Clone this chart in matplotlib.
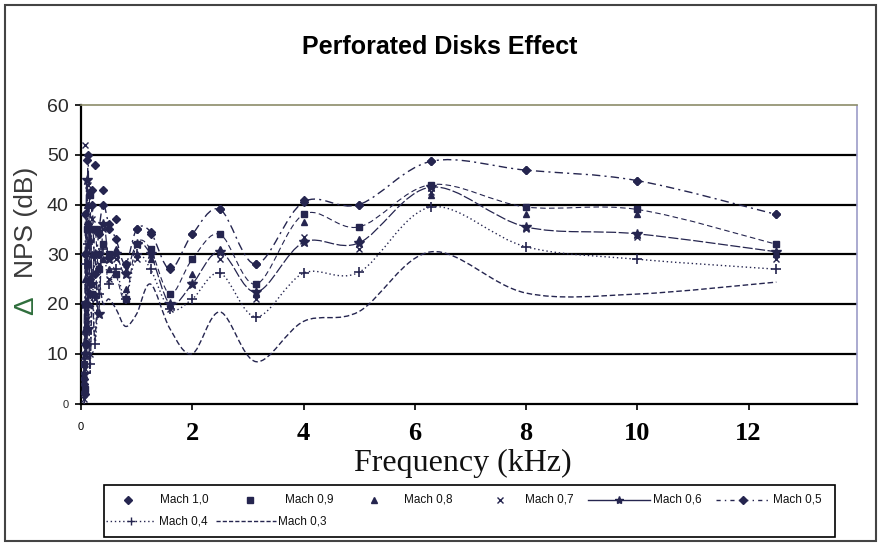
import numpy as np
import matplotlib
matplotlib.use("Agg")
import matplotlib.pyplot as plt
from matplotlib.path import Path
from matplotlib.patches import PathPatch, Rectangle
from matplotlib.lines import Line2D
from matplotlib import font_manager as fm

# ---------------- data (kHz, dB) ----------------
freq = [0.05, 0.063, 0.08, 0.1, 0.125, 0.16, 0.2, 0.25, 0.315, 0.4, 0.5, 0.63,
        0.8, 1.0, 1.25, 1.6, 2.0, 2.5, 3.15, 4.0, 5.0, 6.3, 8.0, 10.0, 12.5]

mach10 = [5, 12, 30, 49, 36, 25, 43, 48, 30, 43, 35, 37,
          28, 35, 34, 27.5, 34, 39, 28, 41, 40, 48.7, 47, 44.8, 38]
mach09 = [8, 3, 20, 35, 28, 42, 22, 35, 27, 32, 30, 26,
          21, 32, 31, 22, 29, 34, 24, 38, 35.5, 44, 39.5, 39, 32]
mach08 = [3, 15, 25, 40, 20, 33, 30, 22, 35, 29, 27, 31,
          23, 30, 29, 20, 26, 31, 22, 36.5, 33, 42, 38, 38, 30]
mach07 = [1, 7, 52, 17, 44, 10, 37, 21, 28, 35, 25, 29,
          27, 29, 31, 19, 24, 29, 21, 33.5, 31, 42.5, 35, 33.5, 29]
mach06 = [6, 20, 10, 45, 15, 35, 24, 30, 18, 36, 29, 30,
          26, 32, 30, 20, 24, 30.5, 22.4, 32.4, 32.3, 43.5, 35.5, 34.1, 30.5]
mach05 = [4, 2, 38, 12, 50, 22, 40, 26, 34, 40, 36, 33,
          28, 35, 34.5, 27, 34, 39, 28, 40.5, 40, 48.7, 46.9, 44.8, 38]
mach04 = [2, 9, 28, 14, 32, 8, 26, 12, 22, 31, 24, 27,
          21, 30, 27, 19, 21, 26.2, 17.4, 26.2, 26.4, 39.5, 31.5, 29, 27]
mach03 = [3, 5, 18, 9, 25, 6, 21, 13, 24, 20, 21, 19,
          15.5, 18, 24, 15, 10, 18.4, 8.4, 16.5, 18.5, 30.5, 22.2, 22, 24.4]

labels = ["Mach 1,0", "Mach 0,9", "Mach 0,8", "Mach 0,7",
          "Mach 0,6", "Mach 0,5", "Mach 0,4", "Mach 0,3"]
xtick_vals = [0, 2, 4, 6, 8, 10, 12]
ytick_vals = [0, 10, 20, 30, 40, 50, 60]

# ---------------- fonts ----------------
avail = {f.name for f in fm.fontManager.ttflist}
def pick(*names):
    for n in names:
        if n in avail:
            return n
    return "DejaVu Sans"
SANS = pick("Liberation Sans", "Arial", "DejaVu Sans")
NARROW = pick("Liberation Sans Narrow", "Liberation Sans", "DejaVu Sans")
SERIF = pick("Liberation Serif", "DejaVu Serif")

W, H = 880, 543
fig = plt.figure(figsize=(W / 100, H / 100), dpi=100)
def fx(px): return px / W
def fy(py): return 1 - py / H

ax = fig.add_axes([fx(81), fy(403.5), fx(857) - fx(81), fy(105) - fy(403.5)])
ax.set_xlim(0, 13.95)
ax.set_ylim(0, 60)

INK = "#25254f"

for yv in [10, 20, 30, 40, 50]:
    ax.axhline(yv, color="black", lw=1.6, zorder=1)

def smooth_path(x, y):
    pts = np.column_stack([x, y]).astype(float)
    n = len(pts)
    verts = [pts[0]]
    codes = [Path.MOVETO]
    for i in range(n - 1):
        p0 = pts[i - 1] if i > 0 else pts[i]
        p1 = pts[i]
        p2 = pts[i + 1]
        p3 = pts[i + 2] if i + 2 < n else pts[i + 1]
        verts += [p1 + (p2 - p0) / 6, p2 - (p3 - p1) / 6, p2]
        codes += [Path.CURVE4] * 3
    return Path(verts, codes)

def line(y, ls, lw=1.0):
    ax.add_patch(PathPatch(smooth_path(freq, y), fill=False, ec=INK, lw=lw,
                           linestyle=ls, zorder=3))

# smoothed lines
line(mach03, (0, (4, 2)))
line(mach04, (0, (1, 2)))
line(mach05, (0, (6, 3, 1.5, 3)))
line(mach06, (0, (8, 2)), 0.9)
line(mach09, (0, (5, 3)), 0.8)

# markers
ms = dict(ls="none", color=INK, zorder=4)
ax.plot(freq, mach10, marker="D", ms=4.5, **ms)
ax.plot(freq, mach09, marker="s", ms=4.5, **ms)
ax.plot(freq, mach08, marker="^", ms=5, **ms)
ax.plot(freq, mach07, marker="x", ms=4.5, mew=1, **ms)
ax.plot(freq, mach06, marker="*", ms=7, **ms)
ax.plot(freq, mach05, marker="D", ms=4.5, **ms)
ax.plot(freq, mach04, marker="+", ms=7, mew=1.2, **ms)

# spines
for s in ["left", "bottom"]:
    ax.spines[s].set_color("black")
    ax.spines[s].set_linewidth(1.6)
ax.spines["top"].set_color("#8c8c6a")
ax.spines["top"].set_linewidth(1.2)
ax.spines["right"].set_color("#9c9cc8")
ax.spines["right"].set_linewidth(1.2)
ax.spines["right"].set_linestyle((0, (1, 1)))

# ticks
ax.set_yticks(ytick_vals)
ax.set_yticklabels([str(v) for v in ytick_vals])
ax.tick_params(axis="y", direction="out", length=4, width=1.2, pad=5,
               labelsize=14, labelcolor="#2a2a2a")
for t in ax.get_yticklabels():
    t.set_fontfamily(SANS)
ax.get_yticklabels()[0].set_fontsize(8)

ax.set_xticks(xtick_vals)
ax.set_xticklabels([str(v) for v in xtick_vals])
ax.tick_params(axis="x", direction="out", length=4, width=1.2, pad=9,
               labelsize=19)
for t in ax.get_xticklabels():
    t.set_fontfamily(SERIF)
    t.set_fontweight("bold")
x0 = ax.get_xticklabels()[0]
x0.set_fontsize(8)
x0.set_fontweight("normal")
x0.set_fontfamily(SANS)

# titles / labels
fig.text(fx(440), fy(47), "Perforated Disks Effect", ha="center", va="center",
         fontsize=18, fontweight="bold", family=NARROW)
fig.text(fx(463), fy(463), "Frequency (kHz)", ha="center", va="center",
         fontsize=23, family=SERIF, color="#111111")
fig.text(fx(26), fy(306), "Δ", rotation=90, ha="center", va="center",
         fontsize=20, family=SANS, color="#2f6e3c")
fig.text(fx(26), fy(222), "NPS (dB)", rotation=90, ha="center", va="center",
         fontsize=19, family=SANS, color="#3a3a3a")

# outer frame
fig.add_artist(Rectangle((fx(5), fy(541)), fx(876) - fx(5), fy(5) - fy(541),
                         transform=fig.transFigure, fill=False, ec="#444444", lw=1.5))

# legend box (manual, Excel style)
fig.add_artist(Rectangle((fx(104), fy(537)), fx(835) - fx(104), fy(485) - fy(537),
                         transform=fig.transFigure, fill=False, ec="black", lw=1.2))
LFS = 8.5
def ltext(px, py, s):
    fig.text(fx(px), fy(py), s, ha="left", va="center", fontsize=LFS,
             family=NARROW, color="#111111")
def lmark(px, py, m, size, mew=1.0):
    fig.add_artist(Line2D([fx(px)], [fy(py)], transform=fig.transFigure,
                          marker=m, ms=size, mew=mew, color=INK, ls="none"))
def lline(p1, p2, py, ls, m=None, size=5, mew=1.0):
    fig.add_artist(Line2D([fx(p1), fx(p2)], [fy(py), fy(py)], transform=fig.transFigure,
                          color=INK, lw=1.0, linestyle=ls))
    if m:
        lmark((p1 + p2) / 2, py, m, size, mew)

r1, r2 = 500, 521
lmark(128, r1, "D", 4); ltext(160, r1, labels[0])
lmark(250, r1, "s", 4); ltext(285, r1, labels[1])
lmark(374, r1, "^", 4.5); ltext(404, r1, labels[2])
lmark(500, r1, "x", 4); ltext(525, r1, labels[3])
lline(588, 650, r1, "-", "*", 6); ltext(653, r1, labels[4])
lline(716, 770, r1, (0, (3, 3, 1, 3)), "D", 4); ltext(773, r1, labels[5])
lline(106, 156, r2, (0, (1, 2)), "+", 6); ltext(159, r2, labels[6])
lline(216, 276, r2, (0, (3, 1.5))); ltext(278, r2, labels[7])

fig.savefig("out.png", dpi=100)
